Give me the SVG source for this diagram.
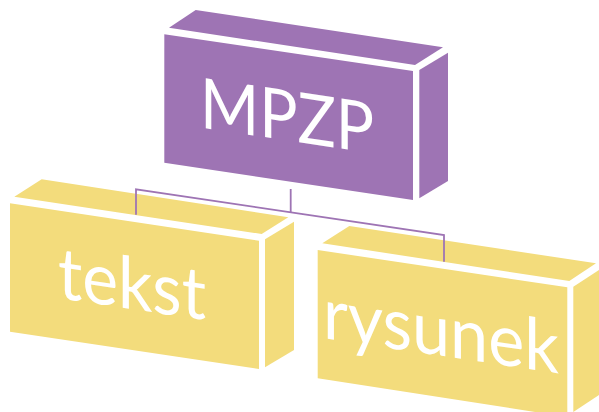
<svg xmlns="http://www.w3.org/2000/svg" width="599" height="412" viewBox="0 0 599 412">
<style>
.p{fill:#9e74b4}
.y{fill:#f3dc7c}
.t{fill:#fff;font-family:Lato,"Open Sans",sans-serif;font-weight:400}
.c{fill:none;stroke:#9e74b4;stroke-width:1.8}
</style>
<rect width="599" height="412" fill="#fff"/>
<g id="node-mpzp">
<polygon class="p" points="169,27.7 195.7,10 443,47.3 415,65"/>
<polygon class="p" points="164.3,34.3 413,71 413,200 164.3,162.7"/>
<polygon class="p" points="419.3,70 448,52.7 448,181 419.3,198.3"/>
<text class="t" font-size="70" transform="matrix(1 .15 0 1 200 127.5)" textLength="174" lengthAdjust="spacingAndGlyphs">MPZP</text>
</g>
<g id="node-tekst">
<polygon class="y" points="14.3,196.7 41.7,179.3 288.3,217.3 261.7,234"/>
<polygon class="y" points="10,203.3 259,240.7 259,369 10,331.7"/>
<polygon class="y" points="265,239.3 294,221.7 294,350 265,367.3"/>
<text class="t" font-size="72" transform="matrix(1 .15 0 1 58 298)" textLength="148" lengthAdjust="spacingAndGlyphs">tekst</text>
</g>
<g id="node-rysunek">
<polygon class="y" points="322.3,243.3 349.3,226 596,263.3 569.3,281"/>
<polygon class="y" points="317.7,250 567.3,287.3 567.3,417 317.7,378.3"/>
<polygon class="y" points="573.3,286.7 599,270 599,395 573.3,412"/>
<text class="t" font-size="72" transform="matrix(1 .15 0 1 323 338)" textLength="236" lengthAdjust="spacingAndGlyphs">rysunek</text>
</g>
<g id="connectors">
<path class="c" d="M136 214.7V189.3L444 235V261.7"/>
<path class="c" d="M290.7 189V212.5"/>
</g>
</svg>
